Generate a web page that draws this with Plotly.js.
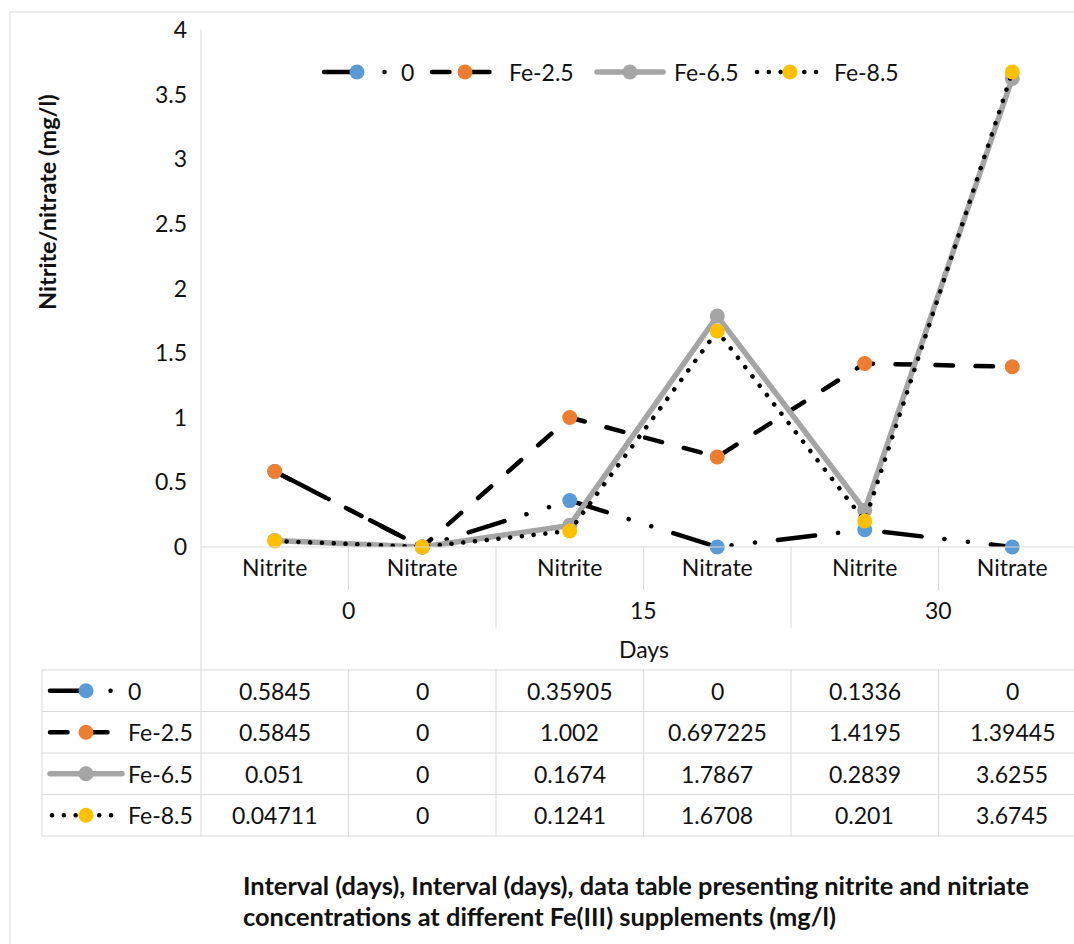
<!DOCTYPE html>
<html>
<head>
<meta charset="utf-8">
<script src="https://cdn.plot.ly/plotly-3.0.1.min.js"></script>
<style>
  html, body { margin: 0; padding: 0; background: #fff; overflow: hidden; }
  #chart { width: 1074px; height: 944px; }
  /* rounded ends for dashes and dots, in the plot, the legends and the table keys */
  path.js-line, .shapelayer path { stroke-linecap: round; }
</style>
</head>
<body>
<div id="chart"></div>
<script>
// ---- data ----
const categories = ['Nitrite', 'Nitrate', 'Nitrite', 'Nitrate', 'Nitrite', 'Nitrate'];
const dayGroups = ['0', '15', '30'];
const seriesNames = ['0', 'Fe-2.5', 'Fe-6.5', 'Fe-8.5'];
const fe0 = [0.5845, 0, 0.35905, 0, 0.1336, 0];
const fe25 = [0.5845, 0, 1.002, 0.697225, 1.4195, 1.39445];
const fe65 = [0.051, 0, 0.1674, 1.7867, 0.2839, 3.6255];
const fe85 = [0.04711, 0, 0.1241, 1.6708, 0.201, 3.6745];
const yTitle = 'Nitrite/nitrate (mg/l)';
const xTitle = 'Days';
const captionLines = [
  'Interval (days), Interval (days), data table presenting nitrite and nitriate',
  'concentrations at different Fe(III) supplements (mg/l)'
];

// ---- styling ----
const FONT = 'Lato, "Open Sans", sans-serif';
const FS = 23;
const TXT = '#111111';
const GRID = '#d9d9d9';
const seriesValues = [fe0, fe25, fe65, fe85];
const styles = [
  {line: '#000000', width: 4.5, dash: '37.5px,23px,0.1px,23.5px,0.1px,23px', marker: '#5b9bd5'},
  {line: '#000000', width: 4.5, dash: '17.5px,22.5px', marker: '#ed7d31'},
  {line: '#a5a5a5', width: 5.5, dash: 'solid', marker: '#a5a5a5'},
  {line: '#000000', width: 4.5, dash: '0.1px,11.7px', marker: '#ffc000'}
];

// ---- geometry helpers (pixel -> paper) ----
const W = 1074, H = 944;
const M = {l: 201, r: 0, t: 30, b: 397};
const plotW = W - M.l - M.r;
const plotH = H - M.t - M.b;
const px = x => (x - M.l) / plotW;
const py = y => (H - M.b - y) / plotH;

const xIdx = categories.map((_, i) => i);
const legendIds = ['legend', 'legend2', 'legend3', 'legend4'];
const legendLeft = [319, 427, 592, 752];

const traces = seriesNames.map((name, k) => ({
  type: 'scatter',
  mode: 'lines+markers',
  name: '\u00a0' + name,
  legend: legendIds[k],
  x: xIdx,
  y: seriesValues[k],
  cliponaxis: false,
  line: {color: styles[k].line, width: styles[k].width, dash: styles[k].dash},
  marker: {color: styles[k].marker, size: 15, line: {width: 0}},
  hoverinfo: 'skip'
}));

const shapes = [];
const annotations = [];
const hline = (x0, x1, y) => shapes.push({type: 'line', xref: 'paper', yref: 'paper',
  x0: px(x0), x1: px(x1), y0: py(y), y1: py(y), line: {color: GRID, width: 1}});
const vlinePx = (x, y0, y1) => shapes.push({type: 'line', xref: 'paper', yref: 'paper',
  x0: px(x), x1: px(x), y0: py(y0), y1: py(y1), line: {color: GRID, width: 1}});
const vlineData = (x, y0, y1) => shapes.push({type: 'line', xref: 'x', yref: 'paper',
  x0: x, x1: x, y0: py(y0), y1: py(y1), line: {color: GRID, width: 1}});

// outer chart frame
vlinePx(10, 12, H);
hline(10, W, 12);

// axis lines
vlinePx(201, 30, 836);
hline(201, W, 547);

// category / group separators under the axis
for (let i = 0; i < categories.length - 1; i++) {
  const isGroup = (i % 2 === 1);
  vlineData(i + 0.5, 547, isGroup ? 628 : 590);
}

// group labels and axis title
dayGroups.forEach((g, j) => annotations.push({
  xref: 'x', yref: 'paper', x: j * 2 + 0.5, y: py(610), text: g, showarrow: false,
  xanchor: 'center', yanchor: 'middle', font: {family: FONT, size: FS, color: TXT}
}));
annotations.push({xref: 'x', yref: 'paper', x: 2.5, y: py(649), text: xTitle, showarrow: false,
  xanchor: 'center', yanchor: 'middle', font: {family: FONT, size: FS, color: TXT}});

// y title
annotations.push({xref: 'paper', yref: 'paper', x: px(47), y: py(202), text: '<b>' + yTitle + '</b>',
  textangle: -90, showarrow: false, xanchor: 'center', yanchor: 'middle',
  font: {family: FONT, size: 23.5, color: TXT}});

// ---- data table ----
const rowLines = [670, 711.5, 753, 794.5, 836];
rowLines.forEach(y => hline(42, W, y));
vlinePx(42, 670, 836);
for (let i = 0; i < categories.length - 1; i++) vlineData(i + 0.5, 670, 836);

const keyEnds = [[50, 118], [50, 112], [50, 122], [52, 114]];
seriesNames.forEach((name, k) => {
  const yc = (rowLines[k] + rowLines[k + 1]) / 2;
  // key line
  shapes.push({type: 'line', xref: 'paper', yref: 'paper',
    x0: px(keyEnds[k][0]), x1: px(keyEnds[k][1]), y0: py(yc), y1: py(yc),
    line: {color: styles[k].line, width: styles[k].width, dash: styles[k].dash}});
  // key marker
  shapes.push({type: 'circle', xref: 'paper', yref: 'paper',
    xsizemode: 'pixel', ysizemode: 'pixel', xanchor: px(86), yanchor: py(yc),
    x0: -7.5, x1: 7.5, y0: -7.5, y1: 7.5,
    fillcolor: styles[k].marker, line: {width: 0}});
  annotations.push({xref: 'paper', yref: 'paper', x: px(126), y: py(yc), text: name,
    showarrow: false, xanchor: 'left', yanchor: 'middle',
    font: {family: FONT, size: FS, color: TXT}});
  seriesValues[k].forEach((v, j) => annotations.push({
    xref: 'x', yref: 'paper', x: j, y: py(yc), text: String(v), showarrow: false,
    xanchor: 'center', yanchor: 'middle', font: {family: FONT, size: FS, color: TXT}
  }));
});

// caption below the table
captionLines.forEach((t, i) => annotations.push({
  xref: 'paper', yref: 'paper', x: px(241), y: py(885 + i * 31), text: '<b>' + t + '</b>',
  showarrow: false, xanchor: 'left', yanchor: 'middle',
  font: {family: FONT, size: 25.4, color: TXT}
}));

const layout = {
  width: W, height: H,
  margin: M,
  paper_bgcolor: '#ffffff',
  plot_bgcolor: '#ffffff',
  font: {family: FONT, size: FS, color: TXT},
  showlegend: true,
  xaxis: {
    range: [-0.5, -0.5 + plotW / 147.5],
    tickvals: xIdx, ticktext: categories,
    showgrid: false, zeroline: false, showline: false, ticks: '',
    ticklabelstandoff: 5,
    tickfont: {family: FONT, size: FS, color: TXT},
    fixedrange: true
  },
  yaxis: {
    range: [0, 4], dtick: 0.5, tick0: 0,
    showgrid: false, zeroline: false, showline: false, ticks: '',
    ticklabelstandoff: 13,
    tickfont: {family: FONT, size: FS, color: TXT},
    fixedrange: true
  },
  shapes: shapes,
  annotations: annotations
};

// one legend box per series so each entry sits at its own place in the row
legendIds.forEach((id, k) => {
  layout[id] = {
    orientation: 'h', x: px(legendLeft[k]), y: py(72), xanchor: 'left', yanchor: 'middle',
    bgcolor: 'rgba(0,0,0,0)', font: {family: FONT, size: FS, color: TXT},
    itemwidth: 66
  };
});

Plotly.newPlot('chart', traces, layout, {displayModeBar: false, staticPlot: true});
</script>
</body>
</html>
